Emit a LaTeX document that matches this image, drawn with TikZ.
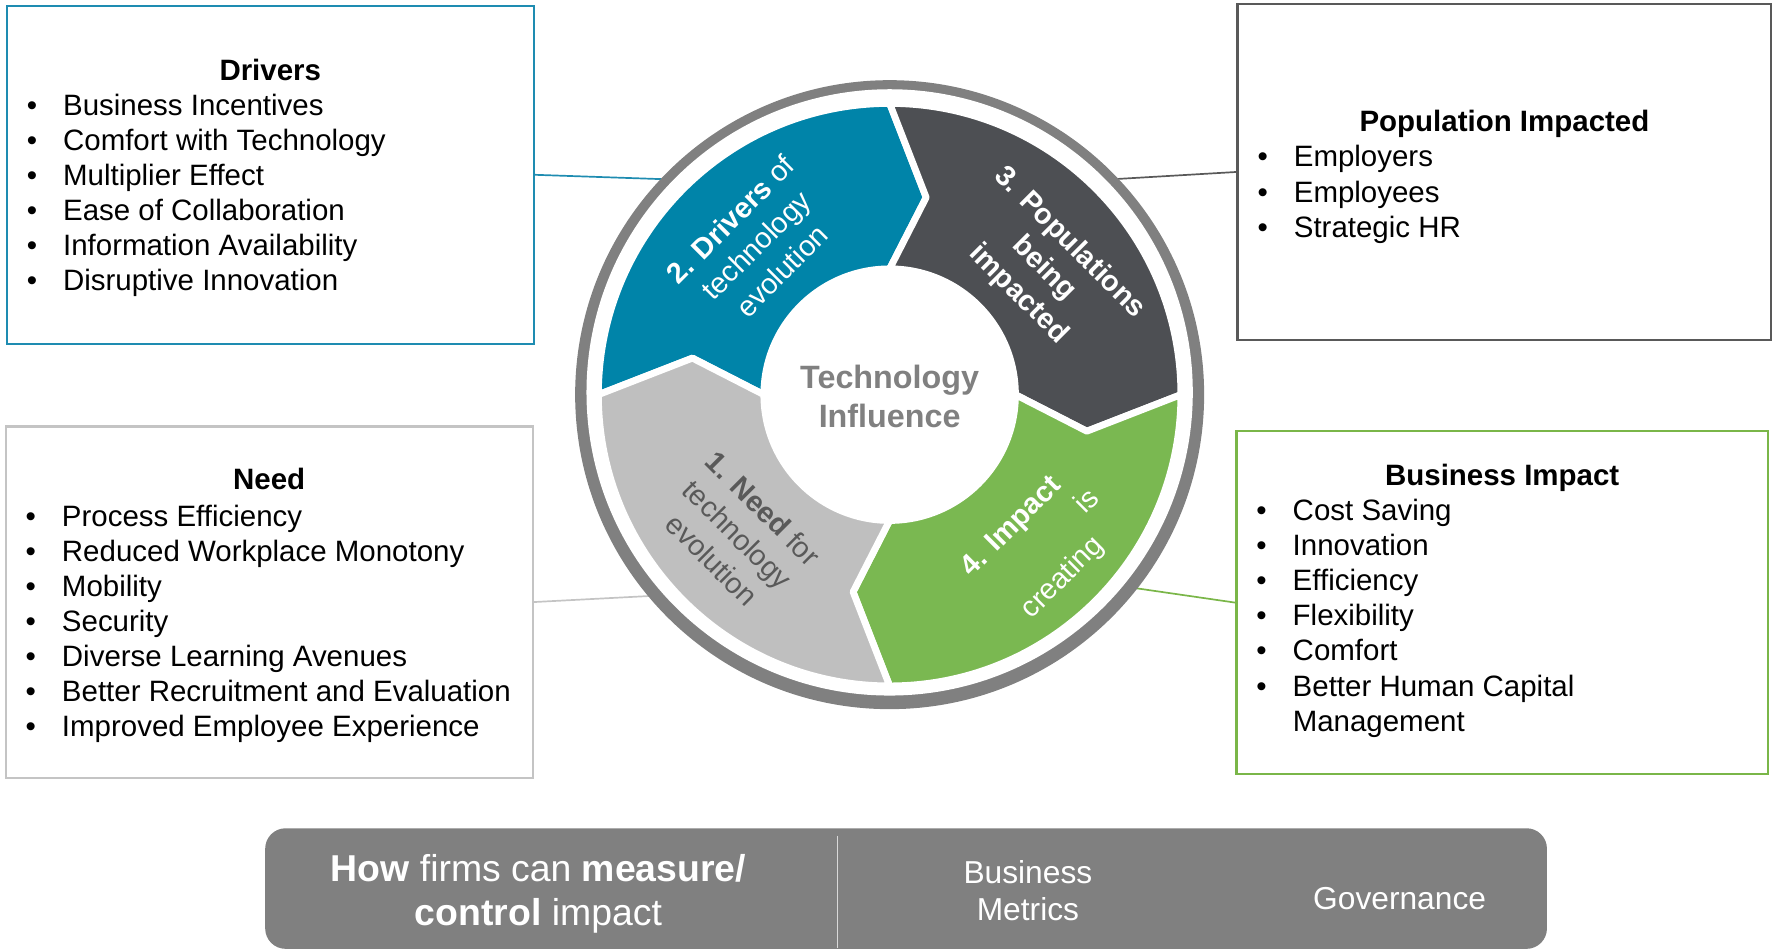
\documentclass[tikz,border=0pt]{standalone}
\usepackage{fontspec}
\setmainfont{Liberation Sans}
\usetikzlibrary{calc}
\definecolor{segblue}{HTML}{0084A9}
\definecolor{segdark}{HTML}{4D4F53}
\definecolor{seggreen}{HTML}{7AB851}
\definecolor{seggray}{HTML}{BFBFBF}
\definecolor{ringgray}{HTML}{808080}
\definecolor{needtxt}{HTML}{595959}
\definecolor{drvline}{HTML}{1E8CB1}
\definecolor{popline}{HTML}{595959}
\definecolor{needline}{HTML}{C4C4C4}
\definecolor{bizline}{HTML}{7AB648}
\definecolor{barfill}{HTML}{808080}
\definecolor{divline}{HTML}{D9D9D9}
\newcommand\blt{\makebox[32pt][l]{\textbullet}}
\tikzset{
  infobox/.style={draw, line width=2pt, inner sep=0pt, fill=none},
  headtxt/.style={font=\fontsize{26}{31}\selectfont\bfseries, inner sep=0pt, anchor=base},
  listtxt/.style={font=\fontsize{26}{31}\selectfont, inner sep=0pt, anchor=base west},
  segfill/.style={draw=white, line width=6pt, line join=round},
  segtxt/.style={font=\fontsize{25.5}{32}\selectfont, inner sep=0pt, anchor=center},
  link/.style={line width=1.5pt},
  bartxt/.style={text=white, inner sep=0pt, anchor=base}
}
\begin{document}
\begin{tikzpicture}[x=1pt,y=1pt]
\useasboundingbox (0,0) rectangle (1568,838.25);
\coordinate (C) at (785,490);

% info boxes
\node[infobox, draw=drvline, minimum width=465pt, minimum height=298pt] (drv) at (238.5,684) {};
\node[infobox, draw=popline, minimum width=471pt, minimum height=297pt] (pop) at (1327.5,686.5) {};
\node[infobox, draw=needline, minimum width=465pt, minimum height=310pt] (need) at (237.5,307) {};
\node[infobox, draw=bizline, minimum width=469pt, minimum height=303pt] (biz) at (1325.5,306.5) {};

% ring anchor points
\coordinate (rDrv) at ($(C)+(135.7:272)$);
\coordinate (rPop) at ($(C)+(44.3:272)$);
\coordinate (rNeed) at ($(C)+(220.7:272)$);
\coordinate (rBiz) at ($(C)+(-38.7:272)$);

% connectors
\draw[link, drvline] (drv.east) -- (rDrv);
\draw[link, popline] (pop.west) -- (rPop);
\draw[link, needline] (need.east) -- (rNeed);
\draw[link, bizline] (biz.west) -- (rBiz);

% outer ring
\fill[ringgray] (C) circle[radius=277.5];
\fill[white] ($(C)+(0,2)$) circle[radius=267.5];

% segments
\path[segfill, fill=segblue] ($(C)+(180:257)$) arc[start angle=180, end angle=90, radius=257]
  -- ($(C)+(79.5:177)$) -- ($(C)+(90:111)$) arc[start angle=90, end angle=180, radius=111]
  -- ($(C)+(169.5:177)$) -- cycle;
\path[segfill, fill=segdark] ($(C)+(90:257)$) arc[start angle=90, end angle=0, radius=257]
  -- ($(C)+(-10.5:177)$) -- ($(C)+(0:111)$) arc[start angle=0, end angle=90, radius=111]
  -- ($(C)+(79.5:177)$) -- cycle;
\path[segfill, fill=seggreen] ($(C)+(0:257)$) arc[start angle=0, end angle=-90, radius=257]
  -- ($(C)+(-100.5:177)$) -- ($(C)+(-90:111)$) arc[start angle=-90, end angle=0, radius=111]
  -- ($(C)+(-10.5:177)$) -- cycle;
\path[segfill, fill=seggray] ($(C)+(-90:257)$) arc[start angle=-90, end angle=-180, radius=257]
  -- ($(C)+(-190.5:177)$) -- ($(C)+(-180:111)$) arc[start angle=-180, end angle=-90, radius=111]
  -- ($(C)+(-100.5:177)$) -- cycle;

% segment texts
\node[segtxt, text=white, rotate=45] (t2) at (669,620)
  {\begin{tabular}{@{}c@{}}\textbf{2. Drivers} of\\technology\\evolution\end{tabular}};
\node[segtxt, text=white, rotate=-45] (t3) at (921,601)
  {\begin{tabular}{@{}c@{}}\textbf{3. Populations}\\\textbf{being}\\\textbf{impacted}\end{tabular}};
\node[segtxt, text=white, rotate=45] (t4) at (915.5,350.5)
  {\begin{tabular}{@{}c@{}}\textbf{4. Impact}\\\hspace*{126pt}is\\creating\end{tabular}};
\node[segtxt, text=needtxt, rotate=-45] (t1) at (649,365)
  {\begin{tabular}{@{}c@{}}\textbf{1. Need} for\\technology\\evolution\end{tabular}};

% centre text
\node[font=\fontsize{28.5}{34}\selectfont\bfseries, text=ringgray, inner sep=0pt, anchor=base] (ctr) at (785,495)
  {\begin{tabular}[t]{@{}c@{}}Technology\\Influence\end{tabular}};

% box texts
\node[headtxt] (drvh) at (238.5,767) {Drivers};
\node[listtxt] (drvl) at (23.5,736.5) {\begin{tabular}[t]{@{}l@{}}
\blt Business Incentives\\
\blt Comfort with Technology\\
\blt Multiplier Effect\\
\blt Ease of Collaboration\\
\blt Information Availability\\
\blt Disruptive Innovation\end{tabular}};

\node[headtxt] (poph) at (1327.5,722) {Population Impacted};
\node[listtxt] (popl) at (1109.5,691) {\begin{tabular}[t]{@{}l@{}}
\blt Employers\\
\blt Employees\\
\blt Strategic HR\end{tabular}};

\node[headtxt] (needh) at (237.5,406) {Need};
\node[listtxt] (needl) at (22.5,374) {\begin{tabular}[t]{@{}l@{}}
\blt Process Efficiency\\
\blt Reduced Workplace Monotony\\
\blt Mobility\\
\blt Security\\
\blt Diverse Learning Avenues\\
\blt Better Recruitment and Evaluation\\
\blt Improved Employee Experience\end{tabular}};

\node[headtxt] (bizh) at (1325.5,410) {Business Impact};
\node[listtxt] (bizl) at (1108.5,379) {\begin{tabular}[t]{@{}l@{}}
\blt Cost Saving\\
\blt Innovation\\
\blt Efficiency\\
\blt Flexibility\\
\blt Comfort\\
\blt Better Human Capital\\
\makebox[32pt]{}Management\end{tabular}};

% bottom bar
\node[fill=barfill, rounded corners=18pt, minimum width=1131pt, minimum height=106.4pt, inner sep=0pt] (bar) at (799.5,54.2) {};
\coordinate (dvT) at (739,101);
\coordinate (dvB) at (739,1.5);
\draw[divline, line width=1.5pt] (dvT) -- (dvB);
\node[bartxt, font=\fontsize{33}{39}\selectfont] (how) at (475,60.5)
  {\begin{tabular}[t]{@{}c@{}}\textbf{How} firms can \textbf{measure/}\\\textbf{control} impact\end{tabular}};
\node[bartxt, font=\fontsize{28}{33}\selectfont] (bm) at (907,59)
  {\begin{tabular}[t]{@{}c@{}}Business\\Metrics\end{tabular}};
\node[bartxt, font=\fontsize{28}{33}\selectfont] (gov) at (1235,36) {Governance};
\end{tikzpicture}
\end{document}
